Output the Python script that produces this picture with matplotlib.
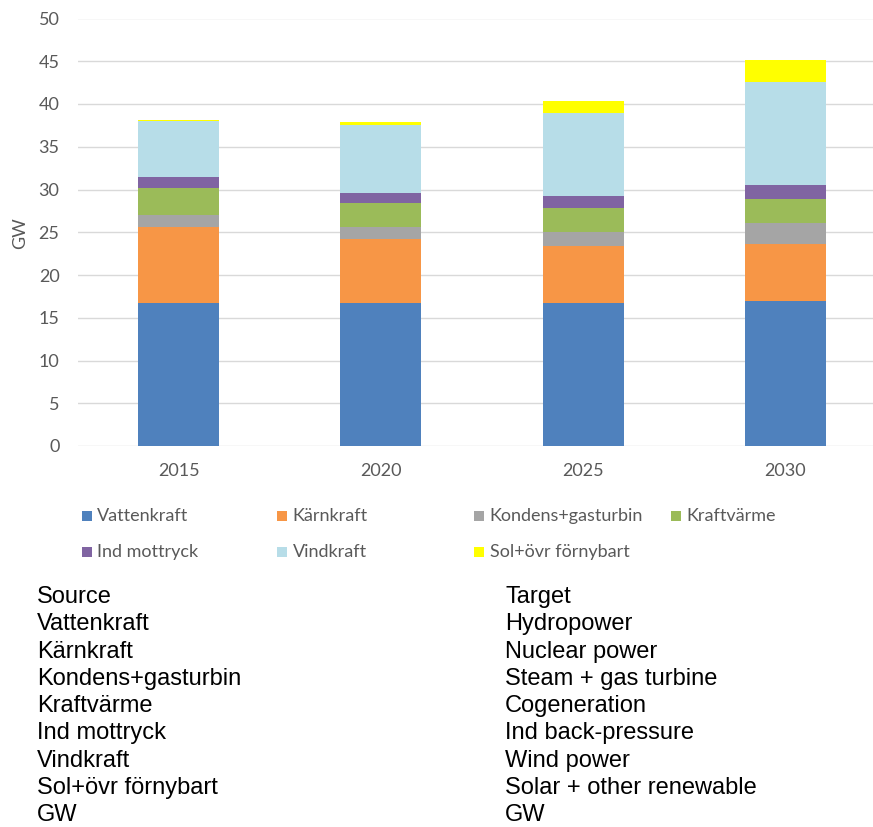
import matplotlib
matplotlib.use("Agg")
import matplotlib.pyplot as plt
from matplotlib.patches import Rectangle
import numpy as np

# Installed capacity by power source (GW)
years = ["2015", "2020", "2025", "2030"]
series_names = ["Vattenkraft", "Kärnkraft", "Kondens+gasturbin", "Kraftvärme",
                "Ind mottryck", "Vindkraft", "Sol+övr förnybart"]
vattenkraft = [16.75, 16.75, 16.75, 17.0]
karnkraft = [8.85, 7.48, 6.70, 6.60]
kondens = [1.36, 1.37, 1.60, 2.45]
kraftvarme = [3.23, 2.84, 2.77, 2.85]
ind_mottryck = [1.29, 1.13, 1.40, 1.64]
vindkraft = [6.51, 7.95, 9.67, 12.04]
sol_ovr = [0.16, 0.40, 1.48, 2.61]
series_values = [vattenkraft, karnkraft, kondens, kraftvarme,
                 ind_mottryck, vindkraft, sol_ovr]
colors = ["#4F81BD", "#F79646", "#A5A5A5", "#9BBB59",
          "#8064A2", "#B7DDE8", "#FFFF00"]

# Swedish -> English glossary printed under the chart
source_terms = ["Source", "Vattenkraft", "Kärnkraft", "Kondens+gasturbin",
                "Kraftvärme", "Ind mottryck", "Vindkraft", "Sol+övr förnybart", "GW"]
target_terms = ["Target", "Hydropower", "Nuclear power", "Steam + gas turbine",
                "Cogeneration", "Ind back-pressure", "Wind power",
                "Solar + other renewable", "GW"]

W, H = 873, 827
fig = plt.figure(figsize=(W / 100, H / 100), dpi=100)
fig.patch.set_facecolor("white")

chart_font = "Lato"
text_grey = "#595959"
fs = 13

ax = fig.add_axes([77.6 / W, (H - 446) / H, 808.8 / W, 427.5 / H])
ax.set_facecolor("white")
x = np.arange(len(years))
bottom = np.zeros(len(years))
for name, vals, col in zip(series_names, series_values, colors):
    vals = np.asarray(vals)
    ax.bar(x, vals, width=0.4, bottom=bottom, color=col, linewidth=0, zorder=3)
    bottom += vals

ax.set_xlim(-0.5, len(years) - 0.5)
ax.set_ylim(0, 50)
ax.set_yticks(np.arange(0, 51, 5))
ax.set_xticks(x)
ax.set_xticklabels(years)
ax.grid(axis="y", color="#D9D9D9", linewidth=1.0, zorder=0)
ax.set_axisbelow(True)
for s in ax.spines.values():
    s.set_visible(False)
ax.tick_params(axis="both", length=0, labelsize=fs, labelcolor=text_grey)
ax.tick_params(axis="y", pad=13)
ax.tick_params(axis="x", pad=12)
for lab in ax.get_xticklabels() + ax.get_yticklabels():
    lab.set_fontfamily(chart_font)
ax.set_ylabel("GW", fontsize=fs, color=text_grey, fontfamily=chart_font)
ax.yaxis.set_label_coords(28 / W, (H - 233) / H, transform=fig.transFigure)

# Legend laid out as a 4-column grid below the axis
col_x = [81.7, 277.3, 474.3, 670.7]
row_y = [516.3, 551.7]
box = 10
for i, (name, col) in enumerate(zip(series_names, colors)):
    r, c = divmod(i, 4)
    cx, cy = col_x[c], row_y[r]
    fig.add_artist(Rectangle((cx / W, (H - cy - box / 2) / H), box / W, box / H,
                             transform=fig.transFigure, facecolor=col,
                             edgecolor="none"))
    fig.text((cx + 15.5) / W, (H - cy) / H, name, fontsize=fs, color=text_grey,
             fontfamily=chart_font, va="center", ha="left")

# Glossary table
for i, (src, tgt) in enumerate(zip(source_terms, target_terms)):
    yb = 603 + 27.3 * i
    fig.text(37 / W, (H - yb) / H, src, fontsize=17, color="black",
             fontfamily="Liberation Sans", va="baseline", ha="left")
    fig.text(505 / W, (H - yb) / H, tgt, fontsize=17, color="black",
             fontfamily="Liberation Sans", va="baseline", ha="left")

fig.savefig("out.png", dpi=100, facecolor="white")
